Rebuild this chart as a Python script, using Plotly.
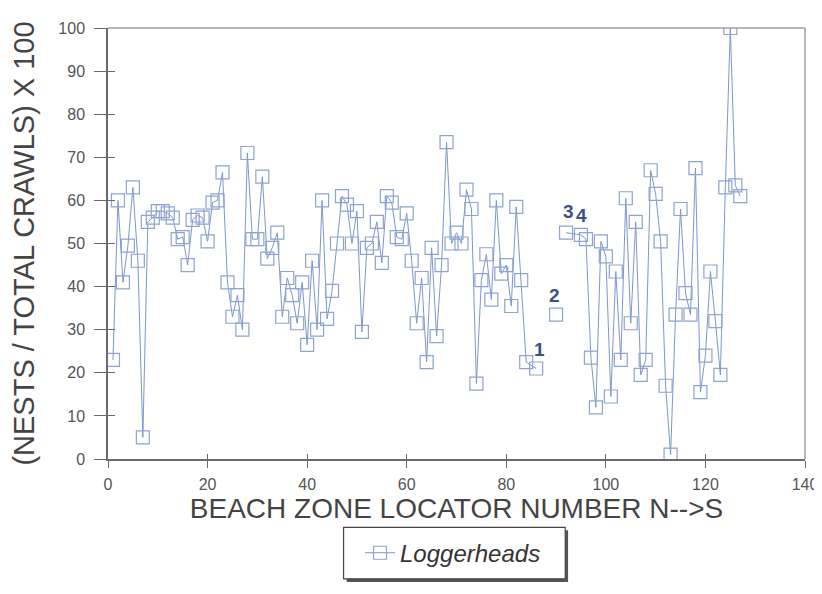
import plotly.graph_objects as go

# Beach zone locator number (N --> S) and nests / total crawls x 100
zones = list(range(1, 85)) + [86, 88, 90, 91, 92, 95] + list(range(96, 128))
ratio = [
    23, 60, 41, 49.5, 63, 46, 5, 55, 56, 57.5,
    57.5, 57, 56, 51, 51.5, 45, 55.5, 56.5, 56, 50.5,
    59.5, 60, 66.5, 41, 33, 38, 30, 71, 51, 51,
    65.5, 46.5, 49, 52.5, 33, 42, 38, 31.5, 41, 26.5,
    46, 30, 60, 32.5, 39, 50, 61, 59, 50, 57.5,
    29.5, 49, 50, 55, 45.5, 61, 59.5, 51.5, 51, 57,
    46, 31.5, 42, 22.5, 49, 28.5, 45, 73.5, 50, 52.5,
    50, 62.5, 58, 17.5, 41.5, 47.5, 37, 60, 43, 45,
    35.5, 58.5, 41.5, 22.5,
    21, None, 33.5, None, 52.5, 52,
    51, 23.5, 12, 50.5, 47, 14.5, 43.5, 23, 60.5, 31.5,
    55, 19.5, 23, 67, 61.5, 50.5, 17, 1, 33.5, 58,
    38.5, 33.5, 67.5, 15.5, 24, 43.5, 32, 19.5, 63, 100,
    63.5, 61,
]

label_text = ["1", "2", "3", "4"]
label_x = [86.6, 89.6, 92.4, 95.2]
label_y = [25.5, 38, 57.5, 56.5]

x_ticks = [0, 20, 40, 60, 80, 100, 120, 140]
y_ticks = [0, 10, 20, 30, 40, 50, 60, 70, 80, 90, 100]

FONT = "Arial, Liberation Sans, sans-serif"
LINE_C = "#7d96cc"
MARK_C = "#8ea3cf"
AX_C = "#6a6a6a"

fig = go.Figure()
fig.add_trace(go.Scatter(
    x=zones, y=ratio, name="Loggerheads", mode="lines+markers",
    line=dict(color=LINE_C, width=1),
    marker=dict(symbol="square-open", size=13, color=MARK_C, line=dict(width=1.2, color=MARK_C)),
    connectgaps=False,
))
# overlay axes to give crossing tick marks
fig.add_trace(go.Scatter(x=[None], y=[None], xaxis="x2", yaxis="y2",
                         showlegend=False, hoverinfo="skip"))

for t, lx, ly in zip(label_text, label_x, label_y):
    fig.add_annotation(x=lx, y=ly, text="<b>%s</b>" % t, showarrow=False,
                       font=dict(family=FONT, size=19, color="#3d4f86"))

# top / right frame
fig.add_shape(type="line", xref="paper", yref="paper", x0=0, x1=1, y0=1, y1=1,
              line=dict(color="#a0a0a0", width=1.5))
fig.add_shape(type="line", xref="paper", yref="paper", x0=1, x1=1, y0=0, y1=1,
              line=dict(color="#a0a0a0", width=1.5))
# legend box with drop shadow
fig.add_shape(type="rect", xref="paper", yref="paper",
              x0=0.3424, x1=0.6601, y0=-0.2851, y1=-0.1655,
              line=dict(width=0), fillcolor="#555555", layer="below")
fig.add_shape(type="rect", xref="paper", yref="paper",
              x0=0.338, x1=0.656, y0=-0.278, y1=-0.1586,
              line=dict(color="#444", width=1.2), fillcolor="white", layer="below")

fig.update_layout(
    width=822, height=594,
    margin=dict(l=100, r=20, t=16, b=143),
    paper_bgcolor="white", plot_bgcolor="rgba(0,0,0,0)",
    font=dict(family=FONT, color="#444"),
    showlegend=True,
    legend=dict(
        x=0.495, xanchor="center", y=-0.2184, yanchor="middle",
        borderwidth=0, bgcolor="rgba(0,0,0,0)",
        font=dict(family=FONT, size=24, color="#333", style="italic"),
        itemwidth=30,
    ),
    xaxis=dict(
        range=[0, 140], tickvals=x_ticks, ticks="outside", ticklen=7,
        tickcolor=AX_C, showline=True, linecolor=AX_C, linewidth=1.5,
        showgrid=False, zeroline=False,
        tickfont=dict(family=FONT, size=16, color="#555"),
        ticklabelstandoff=3,
        title=dict(text="BEACH ZONE LOCATOR NUMBER N-->S",
                   font=dict(family=FONT, size=28, color="#444"), standoff=4),
    ),
    yaxis=dict(
        range=[0, 100], tickvals=y_ticks, ticks="outside", ticklen=12,
        tickcolor=AX_C, showline=True, linecolor=AX_C, linewidth=1.5,
        showgrid=False, zeroline=False,
        tickfont=dict(family=FONT, size=16, color="#555"),
        ticklabelstandoff=6,
        title=dict(text="(NESTS / TOTAL CRAWLS) X 100",
                   font=dict(family=FONT, size=29, color="#444"), standoff=15),
    ),
    xaxis2=dict(range=[0, 140], tickvals=x_ticks, ticks="inside", ticklen=5,
                tickcolor=AX_C, showticklabels=False, showgrid=False,
                zeroline=False, overlaying="x", anchor="y"),
    yaxis2=dict(range=[0, 100], tickvals=y_ticks, ticks="inside", ticklen=7,
                tickcolor=AX_C, showticklabels=False, showgrid=False,
                zeroline=False, overlaying="y", anchor="x"),
)

fig.write_html("out.html")
